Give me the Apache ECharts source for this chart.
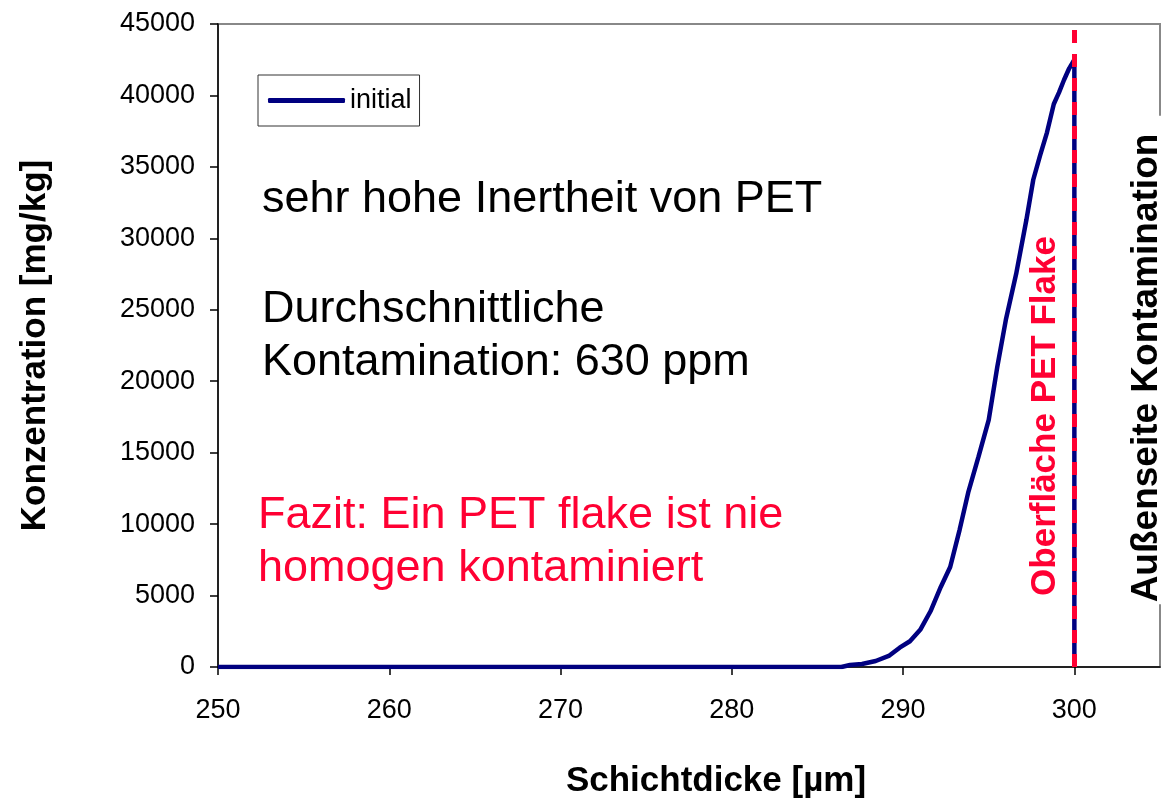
<!DOCTYPE html>
<html><head><meta charset="utf-8">
<script src="https://cdn.jsdelivr.net/npm/echarts@6/dist/echarts.min.js"></script>
<style>html,body{margin:0;padding:0;background:#fff}#c{width:1169px;height:805px}</style>
</head><body><div id="c"></div>
<script>
const seriesName = 'initial';
const thickness = [250, 286.4, 286.9, 287.6, 288.4, 289.2, 289.8, 290.4, 291.0, 291.6, 292.2, 292.75, 293.3, 293.8, 294.4, 295.0, 295.5, 296.0, 296.6, 297.2, 297.6, 298.0, 298.4, 298.8, 299.1, 299.4, 299.7, 300, 300];
const concentration = [0, 0, 140, 210, 420, 800, 1350, 1800, 2600, 3900, 5600, 7000, 9600, 12200, 14700, 17300, 21000, 24300, 27500, 31300, 34100, 35800, 37400, 39400, 40200, 41100, 41900, 42500, 0];
const surfaceX = 300;
const xLabel = 'Schichtdicke [µm]';
const yLabel = 'Konzentration [mg/kg]';
const note1 = 'sehr hohe Inertheit von PET';
const note2 = 'Durchschnittliche\nKontamination: 630 ppm';
const note3 = 'Fazit: Ein PET flake ist nie\nhomogen kontaminiert';
const surfaceLabel = 'Oberfläche PET Flake';
const outsideLabel = 'Außenseite Kontamination';

const FONT = 'Liberation Sans';
const chart = echarts.init(document.getElementById('c'), null, {renderer: 'canvas'});
chart.setOption({
  animation: false,
  textStyle: {fontFamily: FONT},
  grid: {left: 218, top: 24, right: 9, bottom: 138, show: true, borderColor: '#888', borderWidth: 2, backgroundColor: 'transparent'},
  legend: {
    data: [seriesName], left: 258, top: 75, orient: 'horizontal',
    borderColor: '#333', borderWidth: 1, padding: [12, 8, 12, 10],
    itemWidth: 77, itemHeight: 5, icon: 'roundRect', itemGap: 4,
    textStyle: {fontSize: 27, color: '#000', fontFamily: FONT}
  },
  xAxis: {
    type: 'value', min: 250, max: 305, interval: 10,
    name: xLabel, nameLocation: 'middle', nameGap: 97,
    nameTextStyle: {fontSize: 35, fontWeight: 'bold', color: '#000', fontFamily: FONT, padding: [0, 0, 0, 54]},
    axisLine: {show: true, lineStyle: {color: '#000', width: 1.5}},
    axisTick: {show: true, length: 8, lineStyle: {color: '#000', width: 1.5}},
    axisLabel: {fontSize: 27, color: '#000', margin: 30, showMaxLabel: false, fontFamily: FONT},
    splitLine: {show: false}
  },
  yAxis: {
    type: 'value', min: 0, max: 45000, interval: 5000,
    name: yLabel, nameLocation: 'middle', nameGap: 165, nameRotate: 90,
    nameTextStyle: {fontSize: 35, fontWeight: 'bold', color: '#000', fontFamily: FONT},
    axisLine: {show: true, lineStyle: {color: '#000', width: 1.5}},
    axisTick: {show: true, length: 8, lineStyle: {color: '#000', width: 1.5}},
    axisLabel: {fontSize: 27, color: '#000', margin: 23, fontFamily: FONT, formatter: v => String(v)},
    splitLine: {show: false}
  },
  series: [{
    name: seriesName, type: 'line', showSymbol: false, symbol: 'none',
    data: thickness.map((x, i) => [x, concentration[i]]),
    lineStyle: {color: '#000080', width: 4.5}, itemStyle: {color: '#000080'},
    z: 3,
    markLine: {
      silent: true, symbol: ['none', 'none'], label: {show: false},
      lineStyle: {color: '#ff0033', width: 5, type: [13, 11]},
      data: [{xAxis: surfaceX}], z: 4
    }
  }],
  graphic: [
    {type: 'text', left: 262, top: 173, style: {text: note1, fontFamily: FONT, fontSize: 45, fill: '#000', lineHeight: 53}},
    {type: 'text', left: 262, top: 283, style: {text: note2, fontFamily: FONT, fontSize: 45, fill: '#000', lineHeight: 53}},
    {type: 'text', left: 258, top: 489, style: {text: note3, fontFamily: FONT, fontSize: 45, fill: '#ff0033', lineHeight: 53}},
    {type: 'text', x: 1045, y: 416, rotation: Math.PI / 2, style: {text: surfaceLabel, fontFamily: FONT, fontSize: 35, fontWeight: 'bold', fill: '#ff0033', align: 'center', verticalAlign: 'middle'}, z: 10},
    {type: 'text', x: 1147, y: 360, rotation: Math.PI / 2, style: {text: outsideLabel, fontFamily: FONT, fontSize: 37, fontWeight: 'bold', fill: '#000', align: 'center', verticalAlign: 'middle', backgroundColor: '#fff', padding: [0, 18, 0, 2]}, z: 10}
  ]
});
</script></body></html>
